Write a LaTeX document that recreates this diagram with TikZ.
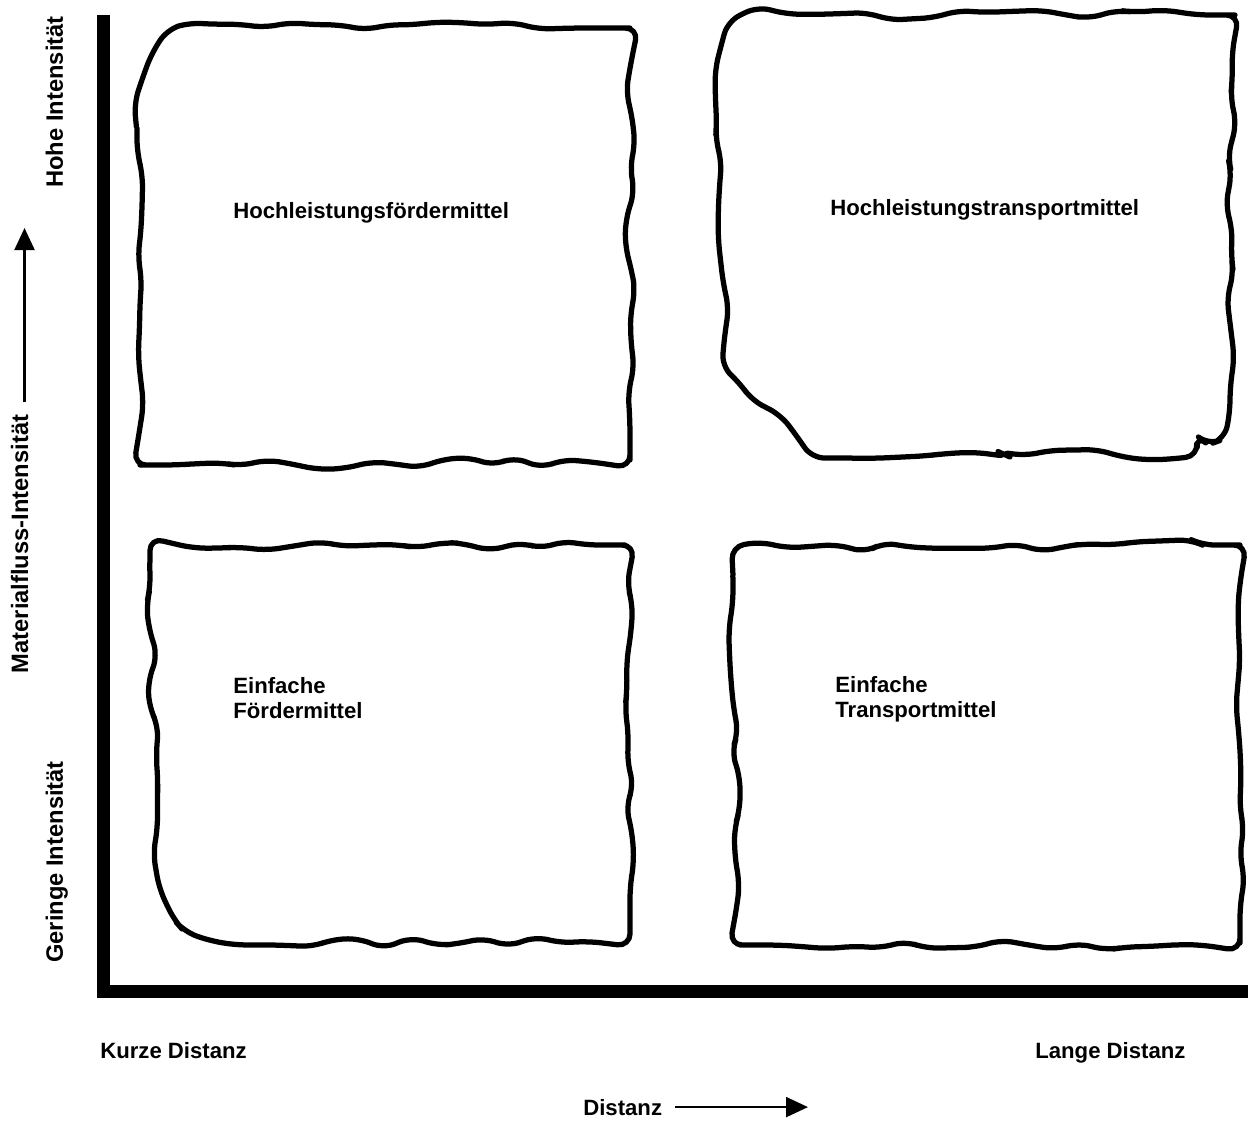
\documentclass[tikz,border=0pt]{standalone}
\usepackage{fontspec}
\setmainfont{Liberation Sans}
\usetikzlibrary{arrows.meta,decorations.pathmorphing}

\begin{document}
\begin{tikzpicture}[
    x=0.2mm, y=-0.2mm,
    axis/.style={line width=2.6mm, line join=miter},
    wavy/.style={line width=1.05mm, line join=round,
      decoration={random steps, segment length=5mm, amplitude=1.1mm},
      rounded corners=2.5mm},
    blob/.style={wavy, decorate},
    lbl/.style={inner sep=0pt, font=\fontsize{12.6}{14.2}\selectfont\bfseries},
    vlbl/.style={lbl, rotate=90, anchor=base, font=\fontsize{13.5}{16}\selectfont\bfseries},
    arrow/.style={-{Triangle[length=4.4mm, width=4mm]}, line width=0.45mm},
  ]
    \useasboundingbox (0,0) rectangle (1248,1121);
    \pgfmathsetseed{7}

    % Axes
    \coordinate (ytop) at (103.5,15);
    \coordinate (origin) at (103.5,991.5);
    \coordinate (xend) at (1248,991.5);
    \draw[axis] (ytop) -- (origin) -- (xend);

    % Quadrants
    \draw[blob] (137,140) .. controls (134,70) and (160,30) .. (225,25) -- (605,28)
      .. controls (622,28) and (630,36) .. (630,55) -- (630,435)
      .. controls (630,452) and (622,462) .. (605,462) -- (165,465)
      .. controls (148,465) and (140,457) .. (140,440) -- cycle;
    \draw[wavy] (1198,456) decorate {-- (1010,457) -- (823,458) -- (730,374) -- (716,110)
      .. controls (714,50) and (730,18) .. (775,15) -- (1210,15)
      .. controls (1225,15) and (1232,24) .. (1232,40) -- (1230,400)
      .. controls (1230,428) and (1222,438) .. (1206,441)}
      -- (1196,435) -- cycle;
    \draw[blob] (150,575) .. controls (150,556) and (160,548) .. (180,548) -- (600,545)
      .. controls (618,545) and (627,553) .. (627,572) -- (630,900)
      .. controls (630,925) and (620,938) .. (600,940) -- (250,945)
      .. controls (190,945) and (160,910) .. (158,840) -- cycle;
    \draw[blob] (733,588) .. controls (733,560) and (745,548) .. (775,548) -- (1215,545)
      .. controls (1232,545) and (1240,553) .. (1240,570) -- (1240,918)
      .. controls (1240,936) and (1232,945) .. (1215,945) -- (765,945)
      .. controls (746,945) and (737,936) .. (737,918) -- cycle;

    \node[lbl, anchor=base west] (hfm) at (233,218) {Hochleistungsfördermittel};
    \node[lbl, anchor=base west] (htm) at (830,215) {Hochleistungstransportmittel};
    \node[lbl, anchor=base west, align=left] (efm) at (233,718) {Einfache\\Fördermittel};
    \node[lbl, anchor=base west, align=left] (etm) at (835,717) {Einfache\\Transportmittel};

    % Axis labels
    \node[vlbl] (high) at (63,102) {Hohe Intensität};
    \node[vlbl] (low) at (63,862) {Geringe Intensität};
    \node[vlbl] (matfl) at (28,544) {Materialfluss-Intensität};
    \coordinate (mattip) at (23,228);
    \draw[arrow, shorten <=2.4mm] ([xshift=1mm]matfl.east) -- ([xshift=1mm]matfl.east |- mattip);

    \node[lbl, anchor=base west] (short) at (100,1058) {Kurze Distanz};
    \node[lbl, anchor=base west] (long) at (1035,1058) {Lange Distanz};
    \node[lbl, anchor=base west] (dist) at (583,1115) {Distanz};
    \coordinate (disttip) at (808,1110);
    \draw[arrow, shorten <=2.6mm] (dist.east) -- (dist.east -| disttip);
  \end{tikzpicture}
\end{document}
